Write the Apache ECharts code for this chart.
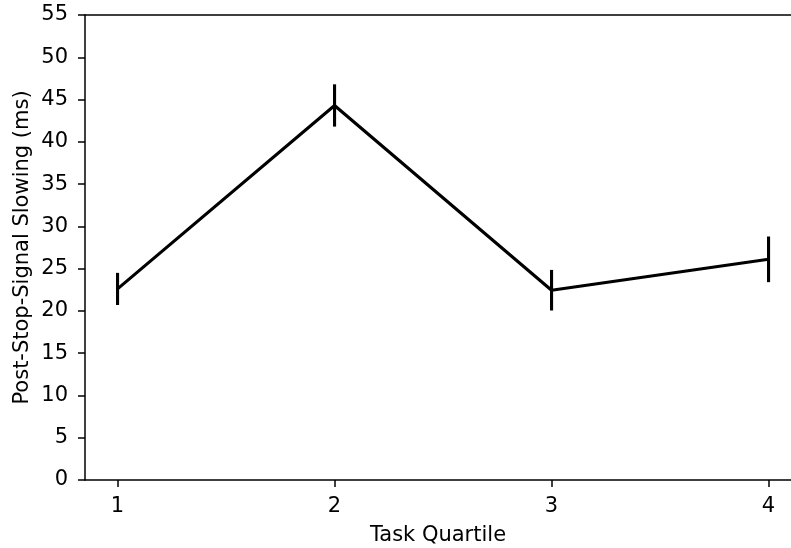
<!DOCTYPE html>
<html>
<head>
<meta charset="utf-8">
<script src="https://cdn.jsdelivr.net/npm/echarts@6/dist/echarts.min.js"></script>
<style>html,body{margin:0;padding:0;background:#fff;}#c{width:791px;height:548px;}</style>
</head>
<body>
<div id="c"></div>
<script>
var quartiles = [1, 2, 3, 4];
var meanSlowing = [22.6, 44.3, 22.45, 26.1];
var errSlowing = [1.9, 2.5, 2.4, 2.7];
var yTicks = [0, 5, 10, 15, 20, 25, 30, 35, 40, 45, 50, 55];

var lineData = quartiles.map(function (q, i) { return [q, meanSlowing[i]]; });
var errData = quartiles.map(function (q, i) { return [q, meanSlowing[i] - errSlowing[i], meanSlowing[i] + errSlowing[i]]; });

var chart = echarts.init(document.getElementById('c'), null, { renderer: 'canvas' });
var font = 'DejaVu Sans';
var fs = 21;
// axes span 0.85..4.15 in the original figure; the window crops it at x=791
var xMin = 0.85, xMax = 0.85 + (791 - 85) / 217;
chart.setOption({
  animation: false,
  grid: { left: 85, top: 15, right: 0, height: 465, containLabel: false, outerBoundsMode: 'none' },
  xAxis: [{
    type: 'value', min: xMin, max: xMax,
    name: 'Task Quartile', nameLocation: 'middle', nameGap: 45,
    nameTextStyle: { fontFamily: font, fontSize: fs, color: '#000' },
    splitLine: { show: false },
    axisLine: { show: true, lineStyle: { color: '#000', width: 1.5 } },
    axisTick: { show: true, length: 7, lineStyle: { color: '#000', width: 1.5 }, customValues: quartiles },
    axisLabel: { fontFamily: font, fontSize: fs, color: '#000', margin: 16, customValues: quartiles }
  }, {
    type: 'value', position: 'top', min: xMin, max: xMax,
    splitLine: { show: false },
    axisLine: { show: true, lineStyle: { color: '#000', width: 1.5 } },
    axisTick: { show: false }, axisLabel: { show: false }
  }],
  yAxis: {
    type: 'value', min: 0, max: 55, interval: 5,
    name: 'Post-Stop-Signal Slowing (ms)', nameLocation: 'middle', nameGap: 52, nameMoveOverlap: false,
    nameTextStyle: { fontFamily: font, fontSize: fs, color: '#000' },
    splitLine: { show: false },
    axisLine: { show: true, lineStyle: { color: '#000', width: 1.5 } },
    axisTick: { show: true, length: 7, lineStyle: { color: '#000', width: 1.5 } },
    axisLabel: { fontFamily: font, fontSize: fs, color: '#000', margin: 17 }
  },
  series: [
    {
      type: 'line', data: lineData, symbol: 'none', xAxisIndex: 0,
      lineStyle: { color: '#000', width: 3.1 }, z: 3
    },
    {
      type: 'custom', data: errData, z: 4, xAxisIndex: 0,
      renderItem: function (params, api) {
        var x = api.value(0);
        var lo = api.coord([x, api.value(1)]);
        var hi = api.coord([x, api.value(2)]);
        return {
          type: 'line',
          shape: { x1: lo[0], y1: lo[1], x2: hi[0], y2: hi[1] },
          style: { stroke: '#000', lineWidth: 3.1 }
        };
      }
    }
  ]
});
</script>
</body>
</html>
